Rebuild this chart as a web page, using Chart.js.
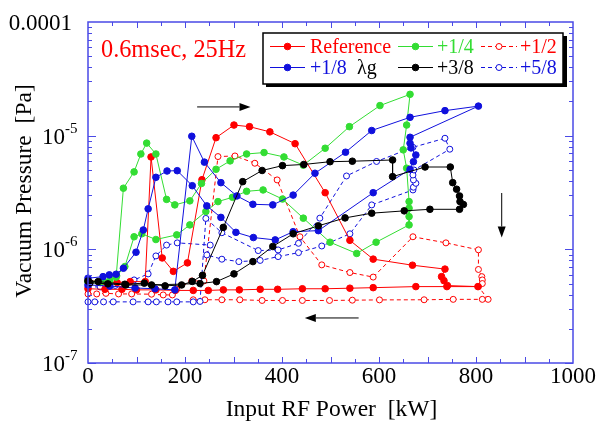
<!DOCTYPE html>
<html>
<head>
<meta charset="utf-8">
<script src="https://cdn.jsdelivr.net/npm/chart.js@4.4.1/dist/chart.umd.min.js"></script>
<style>body{margin:0;background:#fff}</style>
</head>
<body>
<canvas id="myChart" width="600" height="421"></canvas>
<script>
// Reference
var refX = [0, 30, 60, 87, 118, 130, 153, 176, 205, 235, 264, 301, 333, 375, 427, 489, 540, 588, 669, 736, 729, 734, 741, 804, 740, 676, 588, 540, 489, 442, 391, 355, 312, 279, 248, 217, 180, 140, 100, 70, 35, 0];
var refY = [5.3e-7, 5.2e-7, 5.1e-7, 5.2e-7, 5.2e-7, 6.5e-6, 8.4e-7, 6.4e-7, 7.6e-7, 4.1e-6, 9.6e-6, 1.24e-5, 1.2e-5, 1.08e-5, 8.5e-6, 3.15e-6, 1.2e-6, 8.2e-7, 7.25e-7, 6.7e-7, 5.75e-7, 5.3e-7, 4.8e-7, 4.7e-7, 4.7e-7, 4.7e-7, 4.6e-7, 4.55e-7, 4.5e-7, 4.5e-7, 4.45e-7, 4.45e-7, 4.4e-7, 4.4e-7, 4.35e-7, 4.35e-7, 4.35e-7, 4.4e-7, 4.4e-7, 4.45e-7, 4.45e-7, 4.5e-7];
// +1/8
var p18X = [0, 31, 44, 58, 73, 99, 114, 124, 140, 163, 184, 215, 245, 274, 305, 341, 386, 423, 475, 588, 664, 671, 676, 666, 664, 664, 805, 736, 664, 585, 531, 468, 423, 381, 340, 307, 274, 240, 214, 179, 138, 97, 45, 0];
var p18Y = [5.57e-7, 5.75e-7, 5.96e-7, 6.04e-7, 6.82e-7, 9.43e-7, 1.48e-6, 2.27e-6, 4.3e-6, 4.89e-6, 4.92e-6, 3.63e-6, 2.41e-6, 1.91e-6, 1.41e-6, 1.27e-6, 1.21e-6, 1.43e-6, 1.46e-6, 3.15e-6, 5.06e-6, 5.9e-6, 6.76e-6, 7.8e-6, 8.57e-6, 9.68e-6, 1.82e-5, 1.66e-5, 1.45e-5, 1.11e-5, 7.15e-6, 4.67e-6, 3.0e-6, 2.46e-6, 2.49e-6, 2.95e-6, 3.86e-6, 5.85e-6, 9.88e-6, 4.4e-7, 4.5e-7, 4.57e-7, 4.75e-7, 4.86e-7];
// +1/4
var p14X = [0, 25, 45, 58, 73, 95, 109, 121, 140, 162, 179, 210, 234, 264, 293, 327, 363, 404, 444, 489, 539, 602, 664, 657, 650, 657, 662, 662, 662, 662, 594, 554, 499, 444, 401, 361, 327, 298, 268, 243, 210, 183, 140, 111, 95, 76, 59, 30, 0];
var p14Y = [5.2e-7, 5.1e-7, 5.3e-7, 5.7e-7, 3.45e-6, 4.8e-6, 6.9e-6, 8.6e-6, 6.9e-6, 2.75e-6, 2.46e-6, 2.67e-6, 3.8e-6, 5.06e-6, 6.0e-6, 6.9e-6, 7.1e-6, 6.5e-6, 5.5e-6, 7.75e-6, 1.2e-5, 1.84e-5, 2.31e-5, 1.24e-5, 7.5e-6, 5.17e-6, 2.63e-6, 2.3e-6, 1.94e-6, 1.64e-6, 1.155e-6, 9.2e-7, 1.155e-6, 1.88e-6, 2.77e-6, 3.33e-6, 3.24e-6, 2.87e-6, 2.63e-6, 2.15e-6, 1.64e-6, 1.34e-6, 1.22e-6, 1.37e-6, 1.29e-6, 7.05e-7, 5.84e-7, 5.3e-7, 5.2e-7];
// +3/8
var p38X = [0, 21, 76, 116, 159, 193, 215, 236, 279, 319, 359, 401, 445, 499, 545, 628, 628, 695, 747, 752, 760, 766, 767, 774, 766, 705, 652, 585, 530, 475, 423, 381, 340, 301, 265, 231, 131, 78, 41, 4];
var p38Y = [5.27e-7, 5.2e-7, 4.93e-7, 5.04e-7, 4.77e-7, 4.86e-7, 5.22e-7, 5.9e-7, 1.56e-6, 3.94e-6, 4.94e-6, 5.45e-6, 5.58e-6, 5.9e-6, 5.96e-6, 6.11e-6, 4.36e-6, 5.3e-6, 5.3e-6, 3.86e-6, 3.38e-6, 2.95e-6, 2.63e-6, 2.48e-6, 2.25e-6, 2.25e-6, 2.18e-6, 2.08e-6, 1.89e-6, 1.61e-6, 1.37e-6, 1.06e-6, 7.8e-7, 6.08e-7, 5.2e-7, 5.0e-7, 4.86e-7, 4.86e-7, 4.97e-7, 5.08e-7];
// +1/2
var p12X = [0, 18, 37, 63, 90, 131, 155, 174, 183, 214, 239, 268, 303, 344, 390, 437, 482, 540, 588, 670, 738, 805, 805, 812, 813, 813, 805, 825, 813, 753, 693, 601, 545, 498, 442, 401, 359, 313, 276, 241, 217];
var p12Y = [4.05e-7, 4.05e-7, 4.1e-7, 4.05e-7, 4.05e-7, 4.03e-7, 3.97e-7, 3.97e-7, 4.45e-7, 5.27e-7, 5.27e-7, 6.55e-6, 6.63e-6, 5.72e-6, 4.08e-6, 1.29e-6, 7.3e-7, 6.25e-7, 5.7e-7, 1.29e-6, 1.14e-6, 9.9e-7, 6.65e-7, 5.75e-7, 5.38e-7, 5.0e-7, 4.7e-7, 3.63e-7, 3.63e-7, 3.63e-7, 3.6e-7, 3.59e-7, 3.57e-7, 3.55e-7, 3.55e-7, 3.55e-7, 3.55e-7, 3.6e-7, 3.6e-7, 3.6e-7, 3.6e-7];
// +5/8
var p58X = [0, 25, 56, 95, 124, 140, 162, 184, 252, 245, 276, 311, 355, 392, 434, 482, 540, 585, 670, 671, 676, 671, 670, 672, 746, 736, 670, 595, 533, 478, 434, 392, 351, 276, 243, 231, 217, 183, 165, 141, 124, 93, 52, 32, 14, 0];
var p58Y = [4.67e-7, 4.67e-7, 4.81e-7, 5.38e-7, 6.08e-7, 8.75e-7, 1.09e-6, 1.14e-6, 1.09e-6, 8.93e-7, 8.19e-7, 7.8e-7, 7.99e-7, 8.63e-7, 9.35e-7, 1.07e-6, 1.37e-6, 2.46e-6, 3.33e-6, 3.52e-6, 3.81e-6, 4.08e-6, 4.51e-6, 4.99e-6, 7.6e-6, 9.49e-6, 7.9e-6, 5.93e-6, 4.42e-6, 1.88e-6, 1.13e-6, 9.88e-7, 9.75e-7, 1.4e-6, 1.87e-6, 3.48e-7, 3.45e-7, 3.45e-7, 3.45e-7, 3.45e-7, 3.45e-7, 3.45e-7, 3.45e-7, 3.45e-7, 3.45e-7, 3.45e-7];

var xTicks = [0, 200, 400, 600, 800, 1000];
var yTicks = [1e-7, 1e-6, 1e-5, 1e-4];
// arrows: [x1, y1, x2, y2] in data units, head at the second end
var arrows = [[225, 1.79e-5, 335, 1.79e-5], [558, 2.49e-7, 447, 2.49e-7], [853, 3.13e-6, 853, 1.27e-6]];

var RED = '#ff0000', GREEN = '#33dd33', BLUE = '#1010dd', AXIS = '#4a4ae6';
var SERIF = '"Liberation Serif", "Times New Roman", serif';

function pts(xs, ys) {
    return xs.map(function(x, i) { return {x: x, y: ys[i]}; });
}
function series(label, xs, ys, color, open) {
    return {
        label: label,
        data: pts(xs, ys),
        showLine: true,
        borderColor: color,
        borderWidth: 1,
        borderDash: open ? [4, 3] : [],
        pointRadius: open ? 3 : 3.3,
        pointBorderWidth: 1,
        pointBorderColor: color,
        pointBackgroundColor: open ? '#ffffff' : color,
        clip: false
    };
}

function sample(ctx, x1, x2, y, color, open) {
    ctx.save();
    ctx.strokeStyle = color;
    ctx.lineWidth = 1;
    ctx.setLineDash(open ? [4, 3] : []);
    ctx.beginPath(); ctx.moveTo(x1, y); ctx.lineTo(x2, y); ctx.stroke();
    ctx.setLineDash([]);
    ctx.beginPath(); ctx.arc((x1 + x2) / 2, y, open ? 3 : 3.3, 0, Math.PI * 2);
    ctx.fillStyle = open ? '#fff' : color;
    ctx.fill(); ctx.stroke();
    ctx.restore();
}

var deco = {
    id: 'deco',
    afterDraw: function(chart) {
        var ctx = chart.ctx, a = chart.chartArea, xs = chart.scales.x, ys = chart.scales.y;
        ctx.save();
        // ticks
        ctx.strokeStyle = AXIS;
        ctx.lineWidth = 1;
        ctx.beginPath();
        for (var v = 50; v < 1000; v += 50) {
            var px = Math.round(xs.getPixelForValue(v)) + 0.5;
            var len = v % 100 === 0 ? 6 : 4;
            ctx.moveTo(px, a.bottom); ctx.lineTo(px, a.bottom - len);
            ctx.moveTo(px, a.top); ctx.lineTo(px, a.top + len);
        }
        for (var d = -7; d < -4; d++) {
            for (var m = 1; m <= 9; m++) {
                var py = Math.round(ys.getPixelForValue(m * Math.pow(10, d))) + 0.5;
                var l2 = m === 1 ? 8 : 4;
                ctx.moveTo(a.left, py); ctx.lineTo(a.left + l2, py);
                ctx.moveTo(a.right, py); ctx.lineTo(a.right - l2, py);
            }
        }
        ctx.stroke();
        ctx.lineWidth = 1.5;
        ctx.strokeRect(a.left, a.top, a.right - a.left, a.bottom - a.top);

        // tick labels
        ctx.fillStyle = '#000';
        ctx.font = '23px ' + SERIF;
        ctx.textBaseline = 'alphabetic';
        ctx.textAlign = 'center';
        xTicks.forEach(function(t) {
            ctx.fillText(String(t), xs.getPixelForValue(t), a.bottom + 20);
        });
        yTicks.forEach(function(t) {
            var py = ys.getPixelForValue(t);
            var e = Math.round(Math.log10(t));
            if (e === -4) {
                ctx.font = '23px ' + SERIF; ctx.textAlign = 'right';
                ctx.fillText('0.0001', 72, py + 8);
            } else {
                ctx.font = '23px ' + SERIF; ctx.textAlign = 'right';
                ctx.fillText('10', 65, py + 8);
                ctx.font = '15px ' + SERIF; ctx.textAlign = 'left';
                ctx.fillText(String(e), 65, py - 3);
            }
        });

        // axis titles
        ctx.font = '23.5px ' + SERIF;
        ctx.textAlign = 'center';
        ctx.fillText('Input RF Power  [kW]', (a.left + a.right) / 2 + 1, 416);
        ctx.save();
        ctx.translate(31, 191);
        ctx.rotate(-Math.PI / 2);
        ctx.fillText('Vacuum Pressure  [Pa]', 0, 0);
        ctx.restore();

        // condition note
        ctx.font = '24.3px ' + SERIF;
        ctx.fillStyle = RED;
        ctx.textAlign = 'left';
        ctx.fillText('0.6msec, 25Hz', 101, 57);

        // arrows
        ctx.strokeStyle = '#000'; ctx.fillStyle = '#000'; ctx.lineWidth = 1;
        arrows.forEach(function(ar) {
            var x1 = xs.getPixelForValue(ar[0]), y1 = ys.getPixelForValue(ar[1]);
            var x2 = xs.getPixelForValue(ar[2]), y2 = ys.getPixelForValue(ar[3]);
            var ang = Math.atan2(y2 - y1, x2 - x1), hl = 11, hw = 4;
            ctx.beginPath(); ctx.moveTo(x1, y1);
            ctx.lineTo(x2 - hl * Math.cos(ang), y2 - hl * Math.sin(ang)); ctx.stroke();
            ctx.beginPath();
            ctx.moveTo(x2, y2);
            ctx.lineTo(x2 - hl * Math.cos(ang) + hw * Math.sin(ang), y2 - hl * Math.sin(ang) - hw * Math.cos(ang));
            ctx.lineTo(x2 - hl * Math.cos(ang) - hw * Math.sin(ang), y2 - hl * Math.sin(ang) + hw * Math.cos(ang));
            ctx.closePath(); ctx.fill();
        });

        // legend box
        ctx.fillStyle = '#000';
        ctx.fillRect(266, 36, 301, 51);
        ctx.fillStyle = '#fff';
        ctx.fillRect(263, 33, 300, 51);
        ctx.strokeStyle = '#000'; ctx.lineWidth = 1.5;
        ctx.strokeRect(263, 33, 300, 51);

        sample(ctx, 270, 305, 46.5, RED, false);
        sample(ctx, 398, 433, 46.5, GREEN, false);
        sample(ctx, 481, 517, 46.5, RED, true);
        sample(ctx, 270, 305, 67.5, BLUE, false);
        sample(ctx, 398, 433, 67.5, '#000', false);
        sample(ctx, 481, 517, 67.5, BLUE, true);

        ctx.font = '20px ' + SERIF;
        ctx.textAlign = 'left';
        ctx.fillStyle = RED; ctx.fillText('Reference', 310, 53);
        ctx.fillStyle = GREEN; ctx.fillText('+1/4', 437, 53);
        ctx.fillStyle = RED; ctx.fillText('+1/2', 520, 53);
        ctx.fillStyle = BLUE; ctx.fillText('+1/8', 310, 74);
        ctx.fillStyle = '#000'; ctx.fillText('\u03bbg', 357, 74);
        ctx.fillStyle = '#000'; ctx.fillText('+3/8', 437, 74);
        ctx.fillStyle = BLUE; ctx.fillText('+5/8', 520, 74);
        ctx.restore();
    }
};

new Chart(document.getElementById('myChart').getContext('2d'), {
    type: 'scatter',
    data: {
        datasets: [
            series('+3/8', p38X, p38Y, '#000000', false),
            series('+1/8', p18X, p18Y, BLUE, false),
            series('+1/4', p14X, p14Y, GREEN, false),
            series('Reference', refX, refY, RED, false),
            series('+5/8', p58X, p58Y, BLUE, true),
            series('+1/2', p12X, p12Y, RED, true)
        ]
    },
    options: {
        responsive: false,
        animation: false,
        layout: {padding: {left: 88, right: 27, top: 22, bottom: 58}},
        plugins: {legend: {display: false}, tooltip: {enabled: false}},
        scales: {
            x: {type: 'linear', min: 0, max: 1000, display: false},
            y: {type: 'logarithmic', min: 1e-7, max: 1e-4, display: false}
        }
    },
    plugins: [deco]
});
</script>
</body>
</html>
